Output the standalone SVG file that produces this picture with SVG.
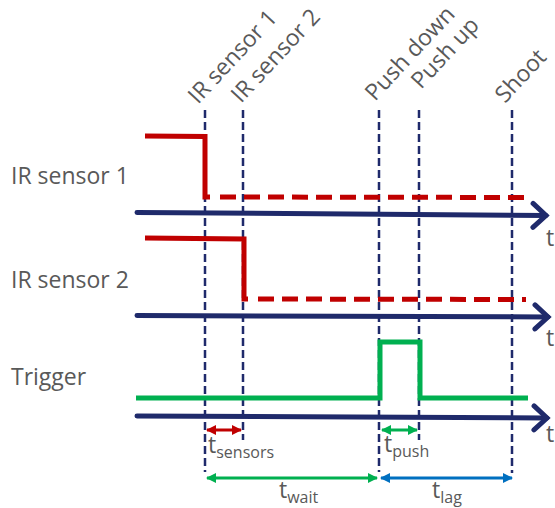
<svg xmlns="http://www.w3.org/2000/svg" width="555" height="508" viewBox="0 0 555 508">
<defs>
<style>
text{font-family:"Open Sans","Liberation Sans",sans-serif;fill:#595959}
.lbl{font-size:23px}
.sub{font-size:16px}
.axis{stroke:#1F2A6B;stroke-width:5;fill:none;stroke-linecap:round}
.vd{stroke:#1F2A6B;stroke-width:2.5;stroke-dasharray:8,4;fill:none}
.red{stroke:#C00000;stroke-width:5;fill:none}
.reddash{stroke:#C00000;stroke-width:5;fill:none;stroke-dasharray:16,8}
.grn{stroke:#00B050;stroke-width:5;fill:none}
</style>
<marker id="chev" viewBox="-20 -15 24 30" markerWidth="24" markerHeight="30" refX="0" refY="0" orient="auto" markerUnits="userSpaceOnUse">
<path d="M-13,-12 L0,0 L-13,12" fill="none" stroke="#1F2A6B" stroke-width="5" stroke-linecap="round" stroke-linejoin="miter"/>
</marker>
<marker id="hr" viewBox="0 -5 10 10" markerWidth="10" markerHeight="10" refX="9" refY="0" orient="auto-start-reverse" markerUnits="userSpaceOnUse"><path d="M0,-5 L10,0 L0,5 Z" fill="#C00000"/></marker>
<marker id="hg" viewBox="0 -5 10 10" markerWidth="10" markerHeight="10" refX="9" refY="0" orient="auto-start-reverse" markerUnits="userSpaceOnUse"><path d="M0,-5 L10,0 L0,5 Z" fill="#00B050"/></marker>
<marker id="hb" viewBox="0 -5 10 10" markerWidth="10" markerHeight="10" refX="9" refY="0" orient="auto-start-reverse" markerUnits="userSpaceOnUse"><path d="M0,-5 L10,0 L0,5 Z" fill="#0070C0"/></marker>
</defs>
<g id="connectors">
<line class="vd" x1="205" y1="110" x2="205" y2="472"/>
<line class="vd" x1="243" y1="110" x2="243" y2="440"/>
<line class="vd" x1="379" y1="110" x2="379" y2="472"/>
<line class="vd" x1="419" y1="110" x2="419" y2="440"/>
<line class="vd" x1="512" y1="110" x2="512" y2="473"/>
</g>
<g id="signal-ir1">
<polyline class="red" points="145,136 205,136.5 205,197 210,197"/>
<line class="reddash" x1="220" y1="197" x2="530" y2="197.5"/>
</g>
<g id="signal-ir2">
<polyline class="red" points="145,238 244,239 244,299 248,299"/>
<line class="reddash" x1="258" y1="299" x2="526" y2="299.5"/>
</g>
<g id="signal-trigger">
<polyline class="grn" points="136,398 380,398 380,342 420,342 420,398 528,398"/>
</g>
<g id="axes">
<line class="axis" x1="137" y1="212.5" x2="546" y2="215.5" marker-end="url(#chev)"/>
<line class="axis" x1="137" y1="315.5" x2="548" y2="317" marker-end="url(#chev)"/>
<line class="axis" x1="137" y1="416" x2="547" y2="418" marker-end="url(#chev)"/>
<text class="lbl" x="546" y="246">t</text>
<text class="lbl" x="546" y="346">t</text>
<text class="lbl" x="546" y="442">t</text>
</g>
<g id="labels-left">
<text class="lbl" x="11" y="184">IR sensor 1</text>
<text class="lbl" x="11" y="288">IR sensor 2</text>
<text class="lbl" x="11" y="385">Trigger</text>
</g>
<g id="labels-top">
<text class="lbl" transform="translate(198,105) rotate(-47)">IR sensor 1</text>
<text class="lbl" transform="translate(241,104) rotate(-47)">IR sensor 2</text>
<text class="lbl" transform="translate(375,102) rotate(-47)">Push down</text>
<text class="lbl" transform="translate(421,90) rotate(-47)">Push up</text>
<text class="lbl" transform="translate(505,104) rotate(-47)">Shoot</text>
</g>
<g id="intervals">
<line x1="207" y1="430" x2="241" y2="430" stroke="#C00000" stroke-width="3" marker-start="url(#hr)" marker-end="url(#hr)"/>
<line x1="382" y1="430" x2="417" y2="430" stroke="#00B050" stroke-width="3" marker-start="url(#hg)" marker-end="url(#hg)"/>
<line x1="207" y1="478" x2="377" y2="478" stroke="#00B050" stroke-width="3" marker-start="url(#hg)" marker-end="url(#hg)"/>
<line x1="381" y1="478" x2="512" y2="478" stroke="#0070C0" stroke-width="3" marker-start="url(#hb)" marker-end="url(#hb)"/>
<text class="lbl" x="208" y="453">t<tspan class="sub" dy="5">sensors</tspan></text>
<text class="lbl" x="384" y="452">t<tspan class="sub" dy="5">push</tspan></text>
<text class="lbl" x="279" y="498">t<tspan class="sub" dy="5">wait</tspan></text>
<text class="lbl" x="432" y="498">t<tspan class="sub" dy="5">lag</tspan></text>
</g>
</svg>
